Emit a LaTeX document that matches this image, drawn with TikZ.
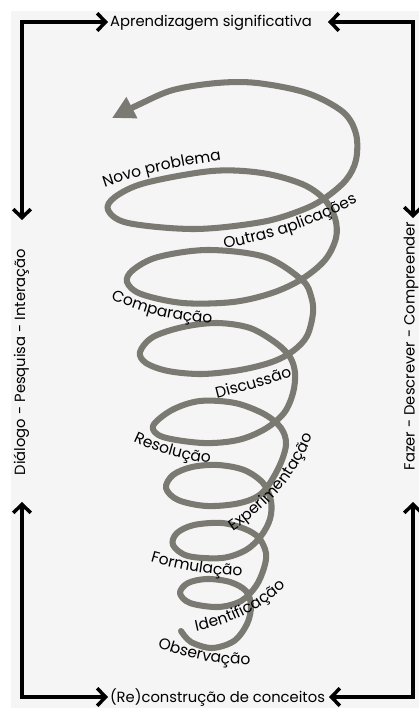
\documentclass[tikz,border=0pt]{standalone}
\usepackage{fontspec}
\setmainfont{Poppins}
\usetikzlibrary{arrows.meta,decorations.text}
\definecolor{spiralgray}{RGB}{122,122,115}
\definecolor{paper}{RGB}{245,245,245}
\newcommand{\lblfont}{\fontsize{11}{13}\selectfont}
\newcommand{\framefont}{\fontsize{10.5}{12}\selectfont}

\begin{document}
\begin{tikzpicture}[
  x=0.025cm, y=0.025cm,
  framelabel/.style={font=\framefont, inner sep=0pt},
  frameline/.style={line width=2.5pt, >={Straight Barb[length=6pt,width=12.5pt]}, <->},
  spiral/.style={draw=spiralgray, line width=4.3pt, line cap=round, line join=round, -{Triangle[length=16pt,width=16pt]}},
  steplabel/.style={decorate, decoration={text along path, text align=center, text={|\lblfont|#1}}}
]
\useasboundingbox (0,0) rectangle (419,-708);
\fill[paper] (11,-11) rectangle (419,-708);

% Frame corners and arrow ends
\coordinate (cTL) at (22,-22);
\coordinate (cTR) at (413,-22);
\coordinate (cBL) at (22,-697);
\coordinate (cBR) at (413,-697);
\coordinate (topL) at (108,-22);
\coordinate (topR) at (328,-22);
\coordinate (botL) at (108,-697);
\coordinate (botR) at (329,-697);
\coordinate (leftT) at (22,-220);
\coordinate (leftB) at (22,-502);
\coordinate (rightT) at (413,-218);
\coordinate (rightB) at (413,-502);

\draw[frameline] (topL) -- (cTL) -- (leftT);
\draw[frameline] (topR) -- (cTR) -- (rightT);
\draw[frameline] (botL) -- (cBL) -- (leftB);
\draw[frameline] (botR) -- (cBR) -- (rightB);

% Frame labels
\node[framelabel, anchor=base] (aprend) at (211,-26.5) {Aprendizagem significativa};
\node[framelabel, anchor=base] (recons) at (217.5,-702) {(Re)construção de conceitos};
\node[framelabel, anchor=base, rotate=90] (dialogo) at (25,-362) {Diálogo - Pesquisa - Interação};
\node[framelabel, anchor=base, rotate=90] (fazer) at (414.5,-346) {Fazer - Descrever - Compreender};

% Spiral
\draw[spiral] plot[smooth, tension=0.55] coordinates {
  (181,-631) (191,-642) (212,-648) (234,-641) (247,-624) (251,-606)
  (246,-591) (230,-582) (207,-579) (188,-583) (180,-593)
  (190,-603) (218,-607) (241,-601) (256,-586) (264,-568) (266,-553)
  (259,-538) (245,-529) (222,-523) (194,-525) (177,-533) (173,-545)
  (188,-556) (222,-558) (246,-550) (261,-536) (270,-519) (271,-501)
  (263,-483) (244,-470) (218,-465) (192,-467) (173,-475) (166,-488)
  (178,-500) (207,-506) (240,-503) (262,-493) (278,-469) (286,-445)
  (281,-428) (264,-414) (235,-403) (200,-401) (172,-410) (153,-426)
  (163,-437) (203,-443) (238,-440) (265,-429) (284,-413) (293,-393) (295,-373)
  (290,-357) (276,-343) (250,-328) (217,-323) (183,-327) (153,-337) (140,-352)
  (146,-363) (168,-371) (202,-374) (240,-370) (272,-362) (293,-351) (307,-336) (313,-313)
  (311,-296) (302,-280) (265,-257) (208,-250) (158,-257) (133,-270) (127,-282)
  (141,-294) (183,-303) (233,-302) (272,-293) (302,-279) (325,-260) (336,-238)
  (335,-218) (324,-199) (302,-184) (262,-173) (212,-171) (145,-183) (115,-197) (108,-210)
  (128,-223) (195,-229) (262,-222) (302,-210) (325,-198) (346,-180) (356,-160)
  (356,-134) (343,-112) (307,-93) (257,-83) (217,-83) (173,-90) (140,-104) (112,-118)
};

% Step labels
\path[steplabel={Novo problema}] (100,-189) to[bend left=6] (226,-160);
\path[steplabel={Outras aplicações}] (222,-249) to[bend right=8] (360,-201);
\path[steplabel={Comparação}] (108,-298) to[bend right=10] (215,-323);
\path[steplabel={Discussão}] (211,-400) to[bend right=2] (298,-375);
\path[steplabel={Resolução}] (126,-438) to[bend right=10] (218,-464);
\path[steplabel={Experimentação}] (222,-538) to[bend right=18] (318,-424);
\path[steplabel={Formulação}] (142,-559) to[bend right=8] (251,-576);
\path[steplabel={Identificação}] (187,-633) to[bend right=16] (293,-580);
\path[steplabel={Observação}] (151,-645) to[bend right=10] (257,-665);
\end{tikzpicture}
\end{document}
